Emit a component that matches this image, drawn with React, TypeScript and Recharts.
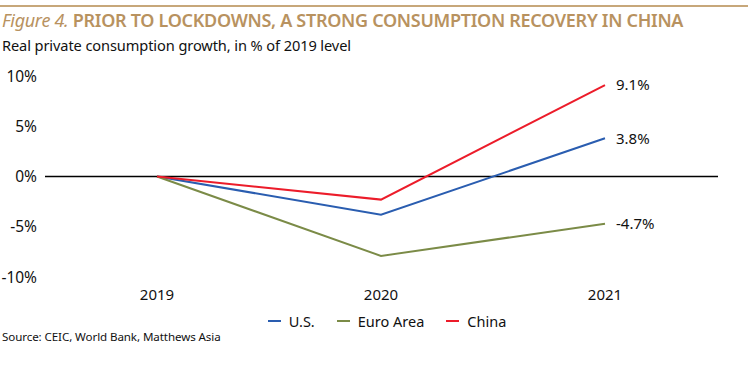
import { LineChart, Line, XAxis, YAxis, ReferenceLine, LabelList } from "recharts";

const years = ["2019", "2020", "2021"];
const usValues = [0, -3.8, 3.8];
const euroValues = [0, -7.9, -4.7];
const chinaValues = [0, -2.3, 9.1];
const yTicks = [-10, -5, 0, 5, 10];

const series = [
  { key: "us", name: "U.S.", color: "#2a5db0" },
  { key: "euro", name: "Euro Area", color: "#7b8b47" },
  { key: "china", name: "China", color: "#ec1c2a" },
];

const data = years.map((year, i) => ({
  year,
  us: usValues[i],
  euro: euroValues[i],
  china: chinaValues[i],
}));

const FONT = `"Noto Sans", "Open Sans", sans-serif`;
const GOLD = "#b8925f";

const lastLabel = (props: any) => {
  const { x, y, value, index } = props;
  if (index !== years.length - 1) return null;
  return (
    <text x={x + 11} y={y} dy="0.35em" fontSize={15} fill="#111" fontFamily={FONT}>
      {`${value.toFixed(1)}%`}
    </text>
  );
};

export default function App() {
  return (
    <div
      style={{
        position: "absolute",
        left: 0,
        top: 0,
        width: 750,
        height: 369,
        background: "#fff",
        fontFamily: FONT,
        overflow: "hidden",
      }}
    >
      <div style={{ position: "absolute", left: 0, top: 5, width: 748, height: 2, background: "#c7a77a" }} />
      <div
        style={{
          position: "absolute",
          left: 2,
          top: 8,
          fontSize: 18,
          color: GOLD,
          whiteSpace: "nowrap",
          letterSpacing: -0.3,
        }}
      >
        <span style={{ fontStyle: "italic" }}>Figure 4.</span>{" "}
        <span style={{ fontWeight: 600 }}>PRIOR TO LOCKDOWNS, A STRONG CONSUMPTION RECOVERY IN CHINA</span>
      </div>
      <div style={{ position: "absolute", left: 2, top: 35, fontSize: 14.6, color: "#111", whiteSpace: "nowrap", letterSpacing: -0.1 }}>
        Real private consumption growth, in % of 2019 level
      </div>
      <div style={{ position: "absolute", left: 0, top: 0 }}>
        <LineChart width={750} height={369} data={data} margin={{ top: 76, right: 32, bottom: 0, left: 0 }}>
          <XAxis
            dataKey="year"
            axisLine={false}
            tickLine={false}
            tickSize={0}
            tickMargin={12}
            padding={{ left: 112, right: 113 }}
            tick={{ fontSize: 15, fill: "#111", fontFamily: FONT }}
            height={92}
          />
          <YAxis
            domain={[-10, 10]}
            ticks={yTicks}
            axisLine={false}
            tickLine={false}
            tickSize={0}
            tickMargin={0}
            width={45}
            tickFormatter={(v) => `${v}%`}
            tick={{ fontSize: 15.5, fill: "#111", fontFamily: FONT, dx: -8 }}
          />
          <ReferenceLine y={0} stroke="#000" strokeWidth={1.3} />
          {series.map((s) => (
            <Line
              key={s.key}
              dataKey={s.key}
              name={s.name}
              stroke={s.color}
              strokeWidth={2}
              dot={false}
              activeDot={false}
              isAnimationActive={false}
            >
              <LabelList dataKey={s.key} content={lastLabel} />
            </Line>
          ))}
        </LineChart>
      </div>
      <div
        style={{
          position: "absolute",
          top: 311,
          left: 0,
          width: 750,
          display: "flex",
          justifyContent: "center",
          gap: 22,
          fontSize: 14.5,
          color: "#111",
          paddingLeft: 24,
          boxSizing: "border-box",
        }}
      >
        {series.map((s) => (
          <div key={s.key} style={{ display: "flex", alignItems: "center", gap: 8 }}>
            <div style={{ width: 13, height: 2, background: s.color }} />
            <span>{s.name}</span>
          </div>
        ))}
      </div>
      <div style={{ position: "absolute", left: 2, top: 329, fontSize: 11.6, color: "#111", whiteSpace: "nowrap", letterSpacing: -0.1 }}>
        Source: CEIC, World Bank, Matthews Asia
      </div>
    </div>
  );
}
